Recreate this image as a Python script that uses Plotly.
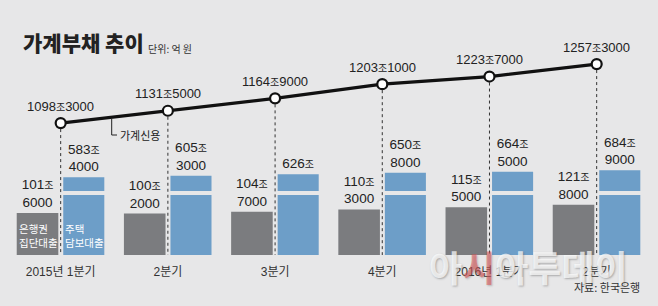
import plotly.graph_objects as go

# ---- data (단위: 억 원) ----
QUARTERS = ["2015년 1분기", "2분기", "3분기", "4분기", "2016년 1분기", "2분기"]
CREDIT = [10983000, 11315000, 11649000, 12031000, 12237000, 12573000]      # 가계신용
GROUP_LOAN = [1016000, 1002000, 1047000, 1103000, 1155000, 1218000]       # 은행권 집단대출
MORTGAGE = [5834000, 6053000, 6260000, 6508000, 6645000, 6849000]         # 주택담보대출

W, H = 658, 306
BG = "#e7e7e8"
GRAY = "#7b7c7f"
BLUE = "#6d9ec8"
NUM_FONT = "Liberation Sans Narrow, Liberation Sans, Noto Sans CJK KR"
KR_FONT = "Noto Sans CJK KR"

def fmt(v, br, small=True):
    jo, eok = divmod(v, 10000)
    jo_txt = '<span style="font-size:10px">조</span>' if small else "조"
    if eok == 0:
        return f"{jo}{jo_txt}"
    return f"{jo}{jo_txt}{br}{eok:04d}"

x = list(range(len(QUARTERS)))
to_jo = lambda arr: [v / 10000 for v in arr]

# axis geometry
X_RANGE = [-0.566, 5.572]
PLOT_DOMAIN = [51 / H, 1]
Y_RANGE = [0, 617.4]                 # gray bars
B_FLOOR = -542.6                     # blue bar axis floor (broken axis)
Y2_RANGE = [B_FLOOR, B_FLOOR + 3695.7]
Y3_RANGE = [742.7, 1430.0]           # line

G_OFF, G_W = -0.41, 0.388
B_OFF, B_W = 0.024, 0.383

fig = go.Figure()

fig.add_trace(go.Bar(
    x=x, y=to_jo(GROUP_LOAN), width=G_W, offset=G_OFF, marker_color=GRAY,
    marker_line_width=0, yaxis="y",
    text=[fmt(v, "<br>", small=True) for v in GROUP_LOAN], textposition="outside",
    textfont=dict(family=NUM_FONT, size=13.5, color="#222"), constraintext="none",
    cliponaxis=False, showlegend=False, hoverinfo="skip"))

fig.add_trace(go.Bar(
    x=x, y=[v - B_FLOOR for v in to_jo(MORTGAGE)], base=B_FLOOR, width=B_W, offset=B_OFF,
    marker_color=BLUE, marker_line_width=0, yaxis="y2",
    text=[fmt(v, "<br>", small=True) for v in MORTGAGE], textposition="outside",
    textfont=dict(family=NUM_FONT, size=13.5, color="#222"), constraintext="none",
    cliponaxis=False, showlegend=False, hoverinfo="skip"))

fig.add_trace(go.Scatter(
    x=x, y=to_jo(CREDIT), yaxis="y3", mode="lines+markers",
    line=dict(color="#111", width=3.2),
    marker=dict(size=10, color="white", line=dict(color="#111", width=2.2)),
    cliponaxis=False, showlegend=False, hoverinfo="skip"))

shapes = []
for i, v in zip(x, to_jo(CREDIT)):
    shapes.append(dict(type="line", xref="x", yref="y3", x0=i, x1=i, y0=v, y1=Y3_RANGE[0],
                       line=dict(color="#333", width=1, dash="dot"), layer="below"))
# axis break on blue bars
for i in x:
    shapes.append(dict(type="rect", xref="x", yref="paper",
                       x0=i + B_OFF - 0.01, x1=i + B_OFF + B_W + 0.01,
                       y0=1 - 195 / H, y1=1 - 191 / H,
                       fillcolor=BG, line_width=0, layer="above"))
# callout for 가계신용
shapes.append(dict(type="path", xref="paper", yref="paper",
                   path=f"M {111.7/W} {1-119/H} L {111.7/W} {1-135/H} L {117/W} {1-135/H}",
                   line=dict(color="#222", width=1)))

annotations = []
for i, v in zip(x, CREDIT):
    annotations.append(dict(x=i, y=v / 10000, xref="x", yref="y3", yshift=17,
                            text=fmt(v, "", small=True), showarrow=False,
                            font=dict(family=NUM_FONT, size=13, color="#222")))
annotations += [
    dict(x=21 / W, y=1 - 42.5 / H, xref="paper", yref="paper", xanchor="left", yanchor="middle",
         text="가계부채 추이", showarrow=False,
         font=dict(family=KR_FONT, size=21, color="#222", weight=900)),
    dict(x=146 / W, y=1 - 48 / H, xref="paper", yref="paper", xanchor="left", yanchor="middle",
         text="단위: 억 원", showarrow=False, font=dict(family=KR_FONT, size=10, color="#333")),
    dict(x=118 / W, y=1 - 135 / H, xref="paper", yref="paper", xanchor="left", yanchor="middle",
         text="가계신용", showarrow=False, font=dict(family=KR_FONT, size=11, color="#222")),
    dict(x=0 + G_OFF, y=0, xref="x", yref="y", xanchor="left", yanchor="bottom", yshift=3, xshift=0,
         text="은행권<br>집단대출", align="left", showarrow=False,
         font=dict(family=KR_FONT, size=10.5, color="white")),
    dict(x=0 + B_OFF, y=0, xref="x", yref="y", xanchor="left", yanchor="bottom", yshift=3, xshift=0,
         text="주택<br>담보대출", align="left", showarrow=False,
         font=dict(family=KR_FONT, size=10.5, color="white")),
    dict(x=528 / W, y=1 - 266 / H, xref="paper", yref="paper", xanchor="center", yanchor="middle",
         text='아<span style="color:rgba(225,80,80,0.75)">시</span>아투데이', showarrow=False,
         font=dict(family=KR_FONT, size=36, color="rgba(255,255,255,0.72)",
                   weight="bold", shadow="1px 1px 2px rgba(90,90,90,0.6)")),
    dict(x=642 / W, y=1 - 287 / H, xref="paper", yref="paper", xanchor="right", yanchor="middle",
         text="자료: 한국은행", showarrow=False, font=dict(family=KR_FONT, size=11, color="#333")),
]

axis_common = dict(domain=PLOT_DOMAIN, showgrid=False, zeroline=False, showticklabels=False,
                   showline=False, fixedrange=True)
fig.update_layout(
    width=W, height=H, margin=dict(l=0, r=0, t=0, b=0),
    paper_bgcolor=BG, plot_bgcolor=BG, barmode="overlay",
    xaxis=dict(range=X_RANGE, domain=[0, 1], tickvals=x, ticktext=QUARTERS, showgrid=False,
               zeroline=False, showline=False, ticks="", ticklabelstandoff=8,
               tickfont=dict(family=NUM_FONT, size=12, color="#333")),
    yaxis=dict(range=Y_RANGE, **axis_common),
    yaxis2=dict(range=Y2_RANGE, overlaying="y", **axis_common),
    yaxis3=dict(range=Y3_RANGE, overlaying="y", **axis_common),
    shapes=shapes, annotations=annotations,
)

fig.write_html("out.html")
